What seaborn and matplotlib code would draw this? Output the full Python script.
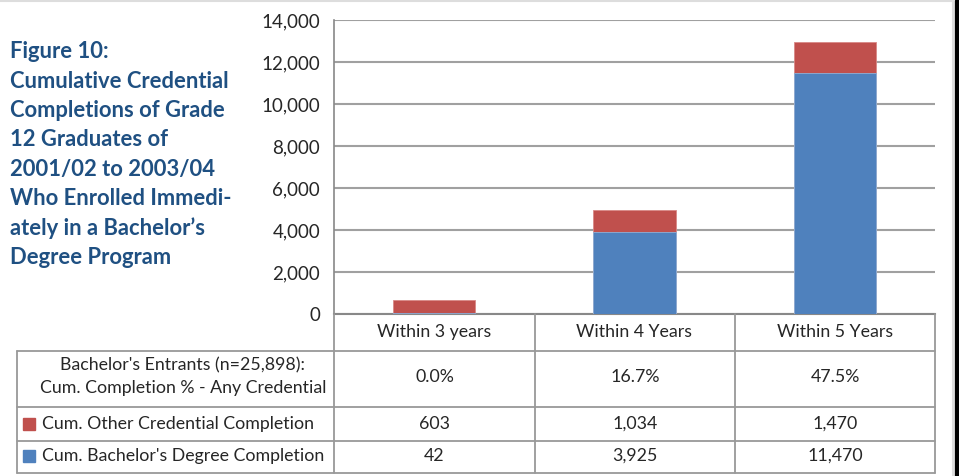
import matplotlib
matplotlib.use("Agg")
import matplotlib.pyplot as plt
import seaborn as sns
import pandas as pd

# data
categories = ["Within 3 years", "Within 4 Years", "Within 5 Years"]
bachelor = [42, 3925, 11470]
other = [603, 1034, 1470]
pct_any = ["0.0%", "16.7%", "47.5%"]
title_lines = ["Figure 10:", "Cumulative Credential", "Completions of Grade",
               "12 Graduates of", "2001/02 to 2003/04", "Who Enrolled Immedi-",
               "ately in a Bachelor\u2019s", "Degree Program"]

RED = "#C0504D"
BLUE = "#4F81BD"
GRID = "#A0A0A0"
TITLE_C = "#1F5082"

sns.set_style("white")
plt.rcParams["font.family"] = ["Lato", "DejaVu Sans"]

df = pd.DataFrame({"cat": categories, "bachelor": bachelor, "other": other})
df["total"] = df["bachelor"] + df["other"]

W, H = 959, 476
fig = plt.figure(figsize=(W / 100, H / 100), dpi=100)

# main bar axes (pixel layout -> figure fractions)
x0, x1, ytop, ybot = 334, 935, 20, 314
ax = fig.add_axes([x0 / W, 1 - ybot / H, (x1 - x0) / W, (ybot - ytop) / H])
sns.barplot(data=df, x="cat", y="total", color=RED, saturation=1, width=0.41,
            edgecolor="#D98886", linewidth=0.6, ax=ax, zorder=3)
sns.barplot(data=df, x="cat", y="bachelor", color=BLUE, saturation=1, width=0.41,
            edgecolor="#8FB0D8", linewidth=0.6, ax=ax, zorder=3)
ax.set_ylim(0, 14000)
ax.set_xlim(-0.5, 2.5)
ax.set_yticks(range(0, 14001, 2000))
ax.set_yticklabels([f"{v:,}" for v in range(0, 14001, 2000)], fontsize=13.5)
ax.yaxis.grid(True, color=GRID, linewidth=1.5, zorder=0)
ax.set_axisbelow(True)
ax.tick_params(axis="y", length=5, color="#888888", pad=5)
ax.tick_params(axis="x", length=0, pad=7, labelsize=12.8)
ax.set_xlabel("")
ax.set_ylabel("")
for s in ["top", "right"]:
    ax.spines[s].set_visible(False)
ax.spines["left"].set_color("#888888")
ax.spines["left"].set_linewidth(1.2)
ax.spines["bottom"].set_color("#888888")
ax.spines["bottom"].set_linewidth(1.5)

# overlay in pixel coordinates for the data table and title
ov = fig.add_axes([0, 0, 1, 1])
ov.set_xlim(0, W)
ov.set_ylim(H, 0)
ov.axis("off")
ov.patch.set_alpha(0)

lc = "#999999"
for y in [351, 407, 441, 473]:
    ov.plot([17, 935], [y, y], color=lc, lw=1.3)
ov.plot([17, 17], [351, 473], color=lc, lw=1.3)
for x in [334, 535, 735, 935]:
    ov.plot([x, x], [314, 473], color=lc, lw=1.3)

fs = 12.8
col_c = [434.5, 635, 835]
ov.text(183, 365, "Bachelor's Entrants (n=25,898):", ha="center", va="center", fontsize=fs)
ov.text(183, 388, "Cum. Completion % - Any Credential", ha="center", va="center", fontsize=fs)
ov.add_patch(plt.Rectangle((23, 418), 12, 12, color=RED))
ov.text(42, 424, "Cum. Other Credential Completion", ha="left", va="center", fontsize=fs)
ov.add_patch(plt.Rectangle((23, 450), 12, 12, color=BLUE))
ov.text(42, 456, "Cum. Bachelor's Degree Completion", ha="left", va="center", fontsize=fs)
for i, c in enumerate(col_c):
    ov.text(c, 377, pct_any[i], ha="center", va="center", fontsize=fs)
    ov.text(c, 424, f"{other[i]:,}", ha="center", va="center", fontsize=fs)
    ov.text(c, 456, f"{bachelor[i]:,}", ha="center", va="center", fontsize=fs)

for i, line in enumerate(title_lines):
    ov.text(10, 52 + i * 29.3, line, ha="left", va="center", fontsize=15.8,
            fontweight="bold", color=TITLE_C)

# frame edges as in the screenshot
ov.plot([0, 953], [0.8, 0.8], color="#DDDDDD", lw=1.5)
ov.plot([953, 953], [0, 476], color="#DDDDDD", lw=1.5)
ov.add_patch(plt.Rectangle((955, 0), 4, 476, color="black"))

fig.savefig("out.png", dpi=100)
